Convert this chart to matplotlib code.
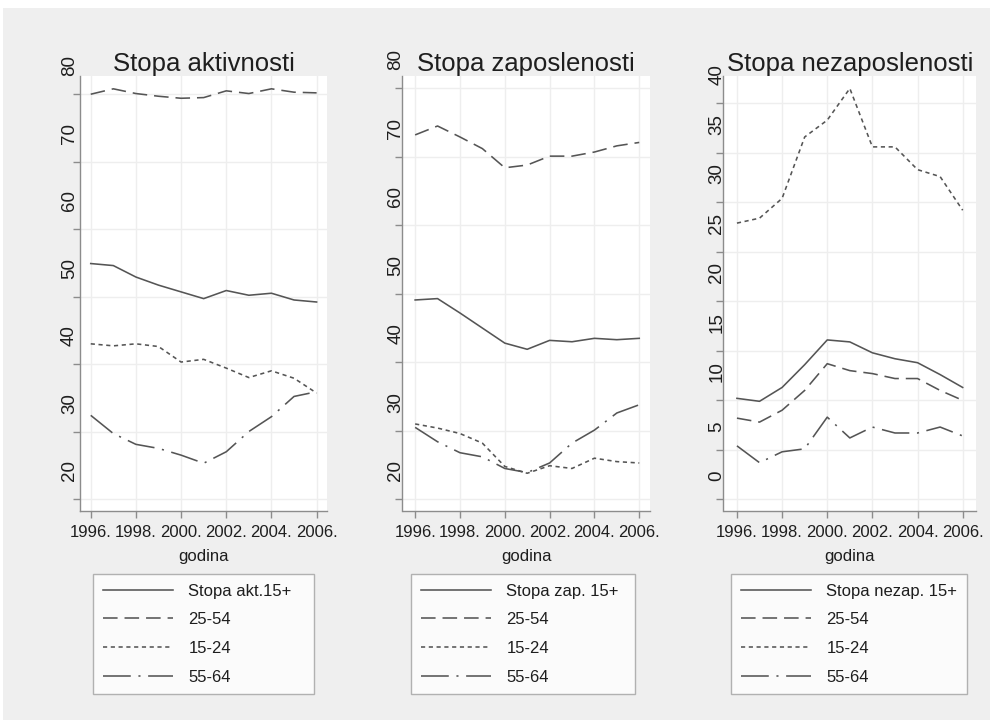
import matplotlib
matplotlib.use("Agg")
import matplotlib.pyplot as plt
from matplotlib.transforms import ScaledTranslation, blended_transform_factory
from matplotlib.patches import Rectangle

# ---------------- data ----------------
years = [1996, 1997, 1998, 1999, 2000, 2001, 2002, 2003, 2004, 2005, 2006]
xtick_years = [1996, 1998, 2000, 2002, 2004, 2006]
xtick_labels = ["1996.", "1998.", "2000.", "2002.", "2004.", "2006."]

titles = ["Stopa aktivnosti", "Stopa zaposlenosti", "Stopa nezaposlenosti"]
legend_labels_1 = ["Stopa akt.15+", "25-54", "15-24", "55-64"]
legend_labels_2 = ["Stopa zap. 15+", "25-54", "15-24", "55-64"]
legend_labels_3 = ["Stopa nezap. 15+", "25-54", "15-24", "55-64"]
xlabel = "godina"

# Stopa aktivnosti
akt_15 = [54.9, 54.6, 52.9, 51.7, 50.7, 49.7, 50.9, 50.2, 50.5, 49.5, 49.2]
akt_25_54 = [80.0, 80.8, 80.1, 79.7, 79.4, 79.5, 80.5, 80.1, 80.8, 80.3, 80.2]
akt_15_24 = [43.0, 42.7, 43.0, 42.6, 40.3, 40.7, 39.4, 38.0, 39.0, 37.9, 35.7]
akt_55_64 = [32.4, 29.7, 28.1, 27.5, 26.5, 25.3, 27.0, 30.0, 32.2, 35.2, 35.9]

# Stopa zaposlenosti
zap_15 = [49.1, 49.3, 47.2, 45.0, 42.8, 41.9, 43.2, 43.0, 43.5, 43.3, 43.5]
zap_25_54 = [73.2, 74.5, 72.9, 71.2, 68.4, 68.8, 70.1, 70.1, 70.7, 71.6, 72.1]
zap_15_24 = [31.0, 30.4, 29.6, 28.2, 24.8, 23.8, 24.9, 24.5, 26.0, 25.5, 25.3]
zap_55_64 = [30.5, 28.4, 26.8, 26.2, 24.5, 23.9, 25.3, 28.2, 30.1, 32.6, 33.8]

# Stopa nezaposlenosti
nez_15 = [10.2, 9.9, 11.3, 13.6, 16.1, 15.9, 14.8, 14.2, 13.8, 12.6, 11.3]
nez_25_54 = [8.2, 7.8, 9.0, 11.0, 13.7, 13.0, 12.7, 12.2, 12.2, 11.0, 10.0]
nez_15_24 = [27.9, 28.4, 30.4, 36.6, 38.3, 41.5, 35.6, 35.6, 33.3, 32.6, 29.2]
nez_55_64 = [5.4, 3.7, 4.8, 5.1, 8.3, 6.2, 7.3, 6.7, 6.7, 7.3, 6.4]

yticks_1 = [20, 30, 40, 50, 60, 70, 80]
yticks_2 = [20, 30, 40, 50, 60, 70, 80]
yticks_3 = [0, 5, 10, 15, 20, 25, 30, 35, 40]

# ---------------- style ----------------
FONT = "Liberation Sans"
plt.rcParams["font.family"] = [FONT, "DejaVu Sans"]
plt.rcParams["lines.scale_dashes"] = False

LINE_C = "#555555"
AX_C = "#8c8c8c"
TXT_C = "#1e1e1e"
GRID_C = "#eeeeee"

styles = [
    dict(linestyle="-"),
    dict(linestyle=(0, (10.5, 5.0))),
    dict(linestyle=(0, (3.0, 2.6))),
    dict(linestyle=(0, (20.0, 5.5, 1.5, 5.5))),
]

W, H = 995, 727
fig = plt.figure(figsize=(W / 100, H / 100), dpi=100, facecolor="white")
fig.patches.append(Rectangle((3 / W, 7 / H), (990 - 3) / W, (720 - 8) / H,
                             transform=fig.transFigure, facecolor="#efefef",
                             edgecolor="none", zorder=-10))

# layout in pixels
ax_left = [80, 402.5, 723.5]
ax_right = [327, 650, 976]
ax_top, ax_bot = 76, 511
xlims = [(1995.525, 2006.46), (1995.436, 2006.48), (1995.404, 2006.59)]
ylims = [(18.22, 82.7), (18.29, 81.8), (-1.18, 42.76)]
ylab_dx = [-2, 2, 2]      # px shift of rotated y labels (positive = right)
leg_box = [(93, 314), (411, 635), (731, 967)]
leg_top = 574

panels = [
    (akt_15, akt_25_54, akt_15_24, akt_55_64, yticks_1, legend_labels_1),
    (zap_15, zap_25_54, zap_15_24, zap_55_64, yticks_2, legend_labels_2),
    (nez_15, nez_25_54, nez_15_24, nez_55_64, yticks_3, legend_labels_3),
]

for i, (s1, s2, s3, s4, yt, labs) in enumerate(panels):
    l, r = ax_left[i], ax_right[i]
    ax = fig.add_axes([l / W, (H - ax_bot) / H, (r - l) / W, (ax_bot - ax_top) / H])
    ax.set_facecolor("white")
    handles = []
    for series, st in zip([s1, s2, s3, s4], styles):
        ln, = ax.plot(years, series, color=LINE_C, lw=1.15, **st)
        handles.append(ln)
    ax.set_xlim(*xlims[i])
    ax.set_ylim(*ylims[i])
    ax.set_xticks(xtick_years)
    ax.set_xticklabels(xtick_labels, fontsize=12, color=TXT_C)
    ax.set_yticks(yt)
    ax.set_yticklabels([])
    ax.tick_params(axis="both", length=5, width=1, color=AX_C)
    ax.tick_params(axis="x", pad=5)
    for sp in ["top", "right"]:
        ax.spines[sp].set_visible(False)
    for sp in ["left", "bottom"]:
        ax.spines[sp].set_color(AX_C)
        ax.spines[sp].set_linewidth(1)
    ax.grid(True, color=GRID_C, lw=1)
    ax.set_axisbelow(True)
    ax.set_title(titles[i], fontsize=18.5, color=TXT_C, pad=1.5)
    ax.set_xlabel(xlabel, fontsize=12, color=TXT_C, labelpad=6.5)

    # rotated y labels (drawn shifted upward, as in the original)
    trans = blended_transform_factory(ax.transAxes, ax.transData) + \
        ScaledTranslation(ylab_dx[i] / 100, 18 / 100, fig.dpi_scale_trans)
    for v in yt:
        ax.text(0, v, str(v), transform=trans, rotation=90, ha="right", va="bottom",
                fontsize=13.5, color=TXT_C, clip_on=False)

    x0, x1 = leg_box[i]
    leg = ax.legend(handles, labs, loc="upper left",
                    bbox_to_anchor=(x0 / W, (H - leg_top) / H, (x1 - x0) / W, 0.0001),
                    bbox_transform=fig.transFigure, mode="expand", borderaxespad=0,
                    prop={"size": 12}, handlelength=4.2,
                    handletextpad=0.95, labelspacing=0.82, borderpad=0.58,
                    fancybox=False, frameon=True, ncol=1)
    leg.get_frame().set_edgecolor("#a0a0a0")
    leg.get_frame().set_linewidth(1)
    for t in leg.get_texts():
        t.set_color(TXT_C)

fig.savefig("out.png", dpi=100, facecolor="white")
